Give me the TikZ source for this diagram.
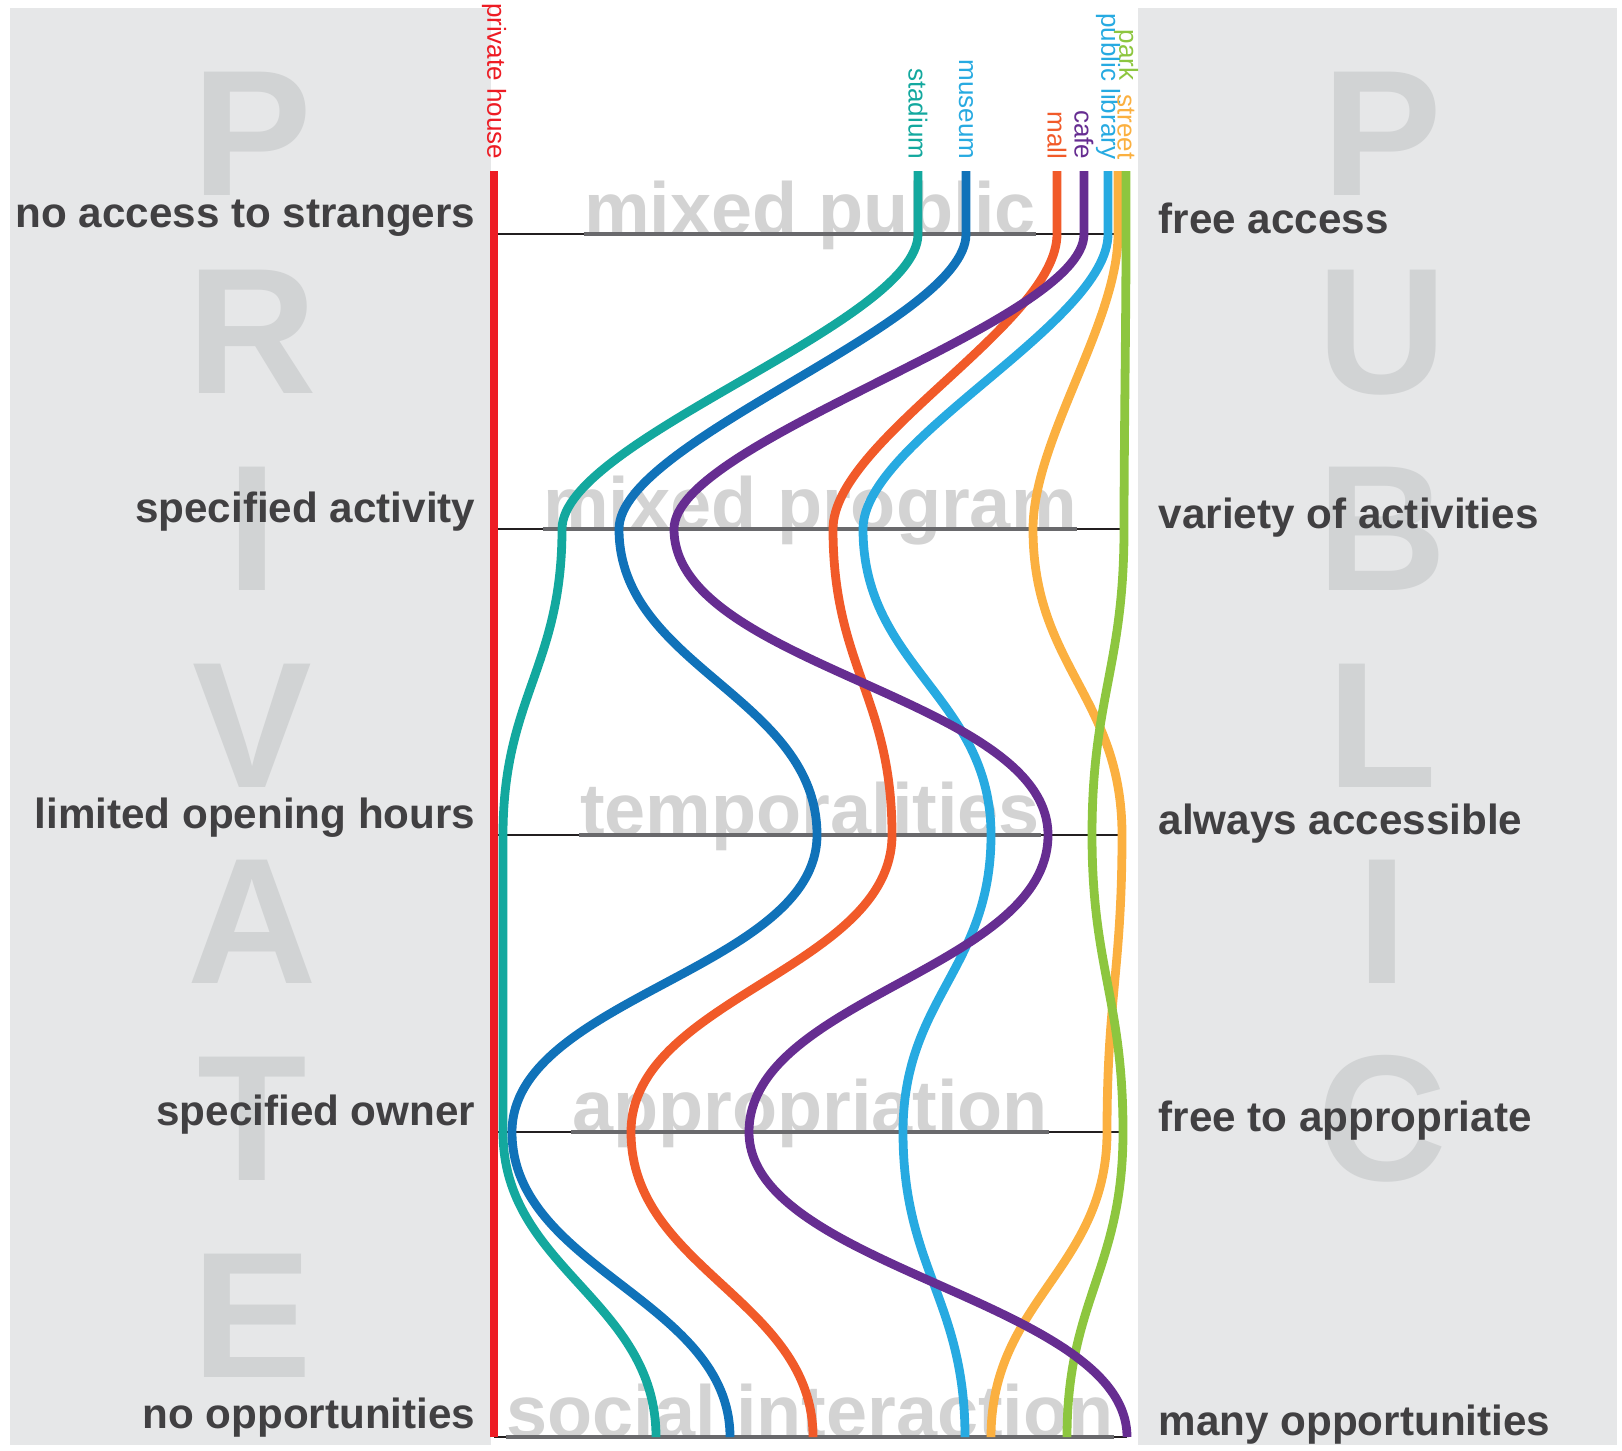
\documentclass[tikz,border=0pt]{standalone}
\usepackage{fontspec}
\setmainfont{Liberation Sans}
\usepackage{xcolor}

\definecolor{panelgray}{RGB}{230,231,232}
\definecolor{lettergray}{RGB}{209,211,212}
\definecolor{wordgray}{RGB}{211,211,211}
\definecolor{wordshade}{RGB}{105,105,108}
\definecolor{labeldark}{RGB}{65,64,66}
\definecolor{axisblack}{RGB}{35,31,32}
\definecolor{housered}{RGB}{237,28,36}
\definecolor{stadiumteal}{RGB}{19,168,158}
\definecolor{museumblue}{RGB}{16,114,185}
\definecolor{librarycyan}{RGB}{39,170,225}
\definecolor{mallorange}{RGB}{241,90,41}
\definecolor{cafepurple}{RGB}{102,45,145}
\definecolor{streetorange}{RGB}{251,176,64}
\definecolor{parkgreen}{RGB}{141,198,63}

% one place: vertical stub, then a bump down to each of the five axes
\newcommand{\flowline}[6]{%
  \draw[#1] (#2,171) -- (#2,234)
    .. controls (#2,323) and (#3,440) .. (#3,529)
    .. controls (#3,667) and (#4,697) .. (#4,835)
    .. controls (#4,969) and (#5,998) .. (#5,1132)
    .. controls (#5,1269) and (#6,1300) .. (#6,1437);}

\begin{document}
\begin{tikzpicture}[x=0.01cm, y=-0.01cm,
    flow/.style={line width=2.5pt},
    placelabel/.style={rotate=-90, anchor=east, inner sep=0pt, font=\fontsize{7.4}{8}\selectfont},
    bigletter/.style={anchor=base, inner sep=0pt, text=lettergray, font=\fontsize{51}{51}\selectfont\bfseries},
    bgword/.style={anchor=base, inner sep=0pt, text=wordgray, font=\fontsize{21}{21}\selectfont\bfseries},
    leftlabel/.style={anchor=base east, inner sep=0pt, text=labeldark, font=\fontsize{12}{14}\selectfont\bfseries},
    rightlabel/.style={anchor=base west, inner sep=0pt, text=labeldark, font=\fontsize{12}{14}\selectfont\bfseries},
    axisline/.style={line width=0.45pt, axisblack},
    wordline/.style={line width=1pt, wordshade}]
        \useasboundingbox (0,0) rectangle (1622,1450);

        % panels (private and public)
        \fill[panelgray] (10,8) rectangle (491,1445);
        \fill[panelgray] (1138,8) rectangle (1617,1445);

        % big letters
        \node[bigletter] (pr1) at (252,195) {P};
        \node[bigletter] (pr2) at (252,393) {R};
        \node[bigletter] (pr3) at (252,590) {I};
        \node[bigletter] (pr4) at (252,787) {V};
        \node[bigletter] (pr5) at (252,983) {A};
        \node[bigletter] (pr6) at (252,1180) {T};
        \node[bigletter] (pr7) at (252,1377) {E};
        \node[bigletter] (pu1) at (1382,195) {P};
        \node[bigletter] (pu2) at (1382,393) {U};
        \node[bigletter] (pu3) at (1382,590) {B};
        \node[bigletter] (pu4) at (1382,787) {L};
        \node[bigletter] (pu5) at (1382,983) {I};
        \node[bigletter] (pu6) at (1382,1180) {C};

        % axis names
        \node[bgword] (w0) at (810,234) {mixed public};
        \node[bgword] (w1) at (810,529) {mixed program};
        \node[bgword] (w2) at (810,835) {temporalities};
        \node[bgword] (w3) at (810,1132) {appropriation};
        \node[bgword] (w4) at (810,1437) {social interaction};

        % axes
        \draw[axisline] (494,234) -- (1124,234);
        \draw[axisline] (494,529) -- (1124,529);
        \draw[axisline] (494,835) -- (1124,835);
        \draw[axisline] (494,1132) -- (1124,1132);
        \draw[axisline] (494,1437) -- (1127,1437);
        \draw[wordline] (w0.base west) -- (w0.base east);
        \draw[wordline] (w1.base west) -- (w1.base east);
        \draw[wordline] (w2.base west) -- (w2.base east);
        \draw[wordline] (w3.base west) -- (w3.base east);
        \draw[wordline] (w4.base west) -- (w4.base east);

        % places
        \draw[flow, housered] (494,171) -- (494,1437);
        \flowline{flow, stadiumteal}{918}{562}{503}{503}{656}
        \flowline{flow, museumblue}{966}{619}{817}{512}{730}
        \flowline{flow, mallorange}{1057}{833}{892}{631}{813}
        \flowline{flow, librarycyan}{1108}{863}{991}{903}{965}
        \flowline{flow, streetorange}{1118}{1033}{1122}{1107}{991}
        \flowline{flow, parkgreen}{1126}{1124}{1092}{1123}{1067}
        \flowline{flow, cafepurple}{1084}{674}{1048}{749}{1127}

        % place labels
        \node[placelabel, text=housered] (lhouse) at (494,160) {private house};
        \node[placelabel, text=stadiumteal] (lstadium) at (918,160) {stadium};
        \node[placelabel, text=librarycyan] (lmuseum) at (966,160) {museum};
        \node[placelabel, text=mallorange] (lmall) at (1057,160) {mall};
        \node[placelabel, text=cafepurple] (lcafe) at (1084,160) {cafe};
        \node[placelabel, text=librarycyan] (llibrary) at (1108,160) {public library};
        \node[placelabel, text=parkgreen] (lpark) at (1126,81) {park};
        \node[placelabel, text=streetorange] (lstreet) at (1126,160) {street};

        % private side
        \node[leftlabel] (p0) at (476,227) {no access to strangers};
        \node[leftlabel] (p1) at (476,522) {specified activity};
        \node[leftlabel] (p2) at (476,828) {limited opening hours};
        \node[leftlabel] (p3) at (476,1125) {specified owner};
        \node[leftlabel] (p4) at (476,1428) {no opportunities};

        % public side
        \node[rightlabel] (q0) at (1158,233) {free access};
        \node[rightlabel] (q1) at (1158,528) {variety of activities};
        \node[rightlabel] (q2) at (1158,834) {always accessible};
        \node[rightlabel] (q3) at (1158,1131) {free to appropriate};
        \node[rightlabel] (q4) at (1158,1435) {many opportunities};
    \end{tikzpicture}
\end{document}
